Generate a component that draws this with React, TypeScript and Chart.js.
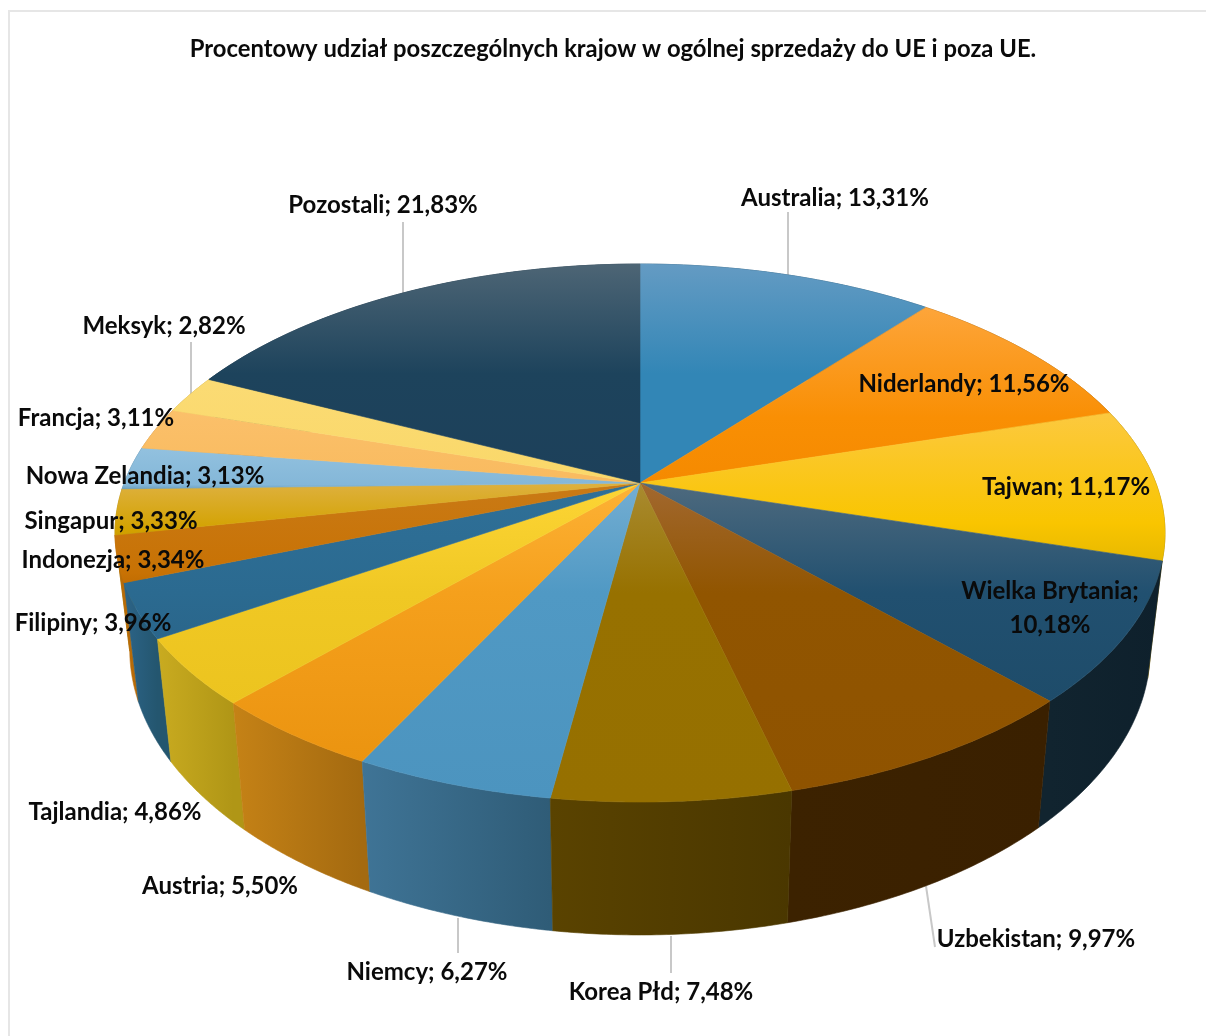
import React, { useEffect, useRef } from "react";
import { Chart, registerables } from "chart.js";

Chart.register(...registerables);

const TITLE = "Procentowy udział poszczególnych krajow w ogólnej sprzedaży do UE i poza UE.";

const categories = [
  "Australia", "Niderlandy", "Tajwan", "Wielka Brytania", "Uzbekistan", "Korea Płd", "Niemcy", "Austria",
  "Tajlandia", "Filipiny", "Indonezja", "Singapur", "Nowa Zelandia", "Francja", "Meksyk", "Pozostali",
];
const shares = [13.31, 11.56, 11.17, 10.18, 9.97, 7.48, 6.27, 5.5, 4.86, 3.96, 3.34, 3.33, 3.13, 3.11, 2.82, 21.83];

const topHighlight = ["#649bc3", "#fda53a", "#fcc93f", "#4e6a7e", "#a2682f", "#a98b30", "#74aed2", "#fdb236", "#fdd535", "#2f7098", "#c97a16", "#deb13f", "#92c1df", "#fbc06a", "#fbdb74", "#4d6575"];
const topBase = ["#3286b6", "#f98f04", "#f9c500", "#215070", "#915500", "#977100", "#5099c4", "#f5a01c", "#f0c824", "#2b6a90", "#c87204", "#d3a200", "#84b7d8", "#f9bb60", "#fad86a", "#1d435c"];
const topEnd = ["#3286b6", "#f58a00", "#e8b900", "#1e4c6a", "#8f5300", "#967000", "#4c94bf", "#eb9410", "#ecc41f", "#2a668b", "#c26d02", "#cf9f00", "#6ea3c3", "#f9bb5f", "#fad869", "#1d405a"];
const wallRight = ["#1b4a66", "#8a5000", "#8a6c00", "#0e202c", "#3a2000", "#4a3700", "#2f5c77", "#a46a10", "#b09616", "#24566f", "#b86b08", "#a88000", "#4a7c98", "#c08a40", "#c0a040", "#10283a"];
const wallLeft = ["#1b4a66", "#8a5000", "#8a6c00", "#11242f", "#3c2200", "#5a4300", "#3f7496", "#c58216", "#c9ab20", "#2c6488", "#b86b08", "#a88000", "#4a7c98", "#c08a40", "#c0a040", "#10283a"];

// Label placement: [centre x, centre y] per category, in canvas pixels.
const labelCentres = [
  [835, 198], [964, 384], [1066, 487], [1050, 608], [1036, 939], [661, 992], [427, 972], [220, 886],
  [115, 812], [93, 623], [113, 560], [111, 521], [145, 476], [96, 418], [164, 326], [383, 205],
];
const leaders = [
  [788, 212, 788, 275], [403, 222, 403, 294], [191, 342, 191, 395],
  [926, 886, 935, 947], [671, 936, 671, 973], [458, 918, 458, 953],
];

// Perspective of the disc, relative to the pie's own radius.
const SHIFT_X = 27;
const TOP_KX = 1.2915;
const TOP_KY = 0.6502;
const PERSPECTIVE = -0.186;
const WALL_SCALE_X = 0.972;
const WALL_Y0 = 113;
const WALL_KY = 0.6908;

const fmt = (v: number) => v.toFixed(2).replace(".", ",") + "%";

const pie3d = {
  id: "pie3d",
  beforeDraw(chart: any) {
    const { ctx, width, height } = chart;
    ctx.save();
    ctx.fillStyle = "#ffffff";
    ctx.fillRect(0, 0, width, height);
    ctx.fillStyle = "#e6e6e6";
    ctx.fillRect(8, 10, width - 8, 2);
    ctx.fillRect(8, 10, 2, height - 10);
    ctx.restore();
  },
  beforeDatasetsDraw(chart: any) {
    const { ctx } = chart;
    const arcs = chart.getDatasetMeta(0).data;
    const first = arcs[0];
    const cx = first.x + SHIFT_X;
    const cy = first.y;
    const r = first.outerRadius;
    const top = (t: number) => {
      const d = 1 + PERSPECTIVE * Math.sin(t);
      return [cx + (r * TOP_KX * Math.cos(t)) / d, cy + (r * TOP_KY * Math.sin(t)) / d];
    };
    const bottom = (t: number) => {
      const d = 1 + PERSPECTIVE * Math.sin(t);
      return [cx + (WALL_SCALE_X * r * TOP_KX * Math.cos(t)) / d, cy + WALL_Y0 + (r * WALL_KY * Math.sin(t)) / d];
    };
    const samples = (a: any) => {
      const n = 48;
      const out: number[] = [];
      for (let i = 0; i <= n; i++) out.push(a.startAngle + ((a.endAngle - a.startAngle) * i) / n);
      return out;
    };

    ctx.save();
    // leader lines sit behind the disc
    ctx.strokeStyle = "#c8c8c8";
    ctx.lineWidth = 2;
    leaders.forEach(([x1, y1, x2, y2]) => {
      ctx.beginPath();
      ctx.moveTo(x1, y1);
      ctx.lineTo(x2, y2);
      ctx.stroke();
    });

    // side walls, back to front
    const order = arcs
      .map((a: any, i: number) => ({ a, i, s: Math.sin((a.startAngle + a.endAngle) / 2) }))
      .sort((p: any, q: any) => p.s - q.s);
    order.forEach(({ a, i }: any) => {
      const ts = samples(a);
      const x0 = top(ts[0])[0];
      const x1 = top(ts[ts.length - 1])[0];
      const g = ctx.createLinearGradient(Math.min(x0, x1), 0, Math.max(x0, x1) + 0.01, 0);
      g.addColorStop(0, wallLeft[i]);
      g.addColorStop(1, wallRight[i]);
      ctx.fillStyle = g;
      ctx.strokeStyle = g;
      ctx.lineWidth = 0.6;
      ctx.beginPath();
      ts.forEach((t: number, k: number) => {
        const p = top(t);
        k ? ctx.lineTo(p[0], p[1]) : ctx.moveTo(p[0], p[1]);
      });
      [...ts].reverse().forEach((t: number) => {
        const p = bottom(t);
        ctx.lineTo(p[0], p[1]);
      });
      ctx.closePath();
      ctx.fill();
      ctx.stroke();
    });

    // top face
    arcs.forEach((a: any, i: number) => {
      const pts = samples(a).map(top);
      const ys = pts.map((p: number[]) => p[1]).concat(cy);
      const y0 = Math.min(...ys);
      const y1 = Math.max(...ys);
      const g = ctx.createLinearGradient(0, y0, 0, y1 + 0.01);
      const mid = Math.min(0.9, 110 / Math.max(1, y1 - y0));
      g.addColorStop(0, topHighlight[i]);
      g.addColorStop(mid, topBase[i]);
      g.addColorStop(1, topEnd[i]);
      ctx.fillStyle = g;
      ctx.strokeStyle = g;
      ctx.lineWidth = 0.6;
      ctx.beginPath();
      ctx.moveTo(cx, cy);
      pts.forEach((p: number[]) => ctx.lineTo(p[0], p[1]));
      ctx.closePath();
      ctx.fill();
      ctx.stroke();
    });
    ctx.restore();
    return false;
  },
  afterDraw(chart: any) {
    const { ctx } = chart;
    ctx.save();
    ctx.fillStyle = "#0a0a0a";
    ctx.font = "bold 24px Lato";
    ctx.textAlign = "center";
    ctx.textBaseline = "middle";
    categories.forEach((c, i) => {
      const [x, y] = labelCentres[i];
      if (c === "Wielka Brytania") {
        ctx.fillText(c + ";", x, y - 17);
        ctx.fillText(fmt(shares[i]), x, y + 17);
      } else {
        ctx.fillText(`${c}; ${fmt(shares[i])}`, x, y);
      }
    });
    ctx.restore();
  },
};

export default function App() {
  const ref = useRef<HTMLCanvasElement>(null);
  useEffect(() => {
    if (!ref.current) return;
    const chart = new Chart(ref.current, {
      type: "pie",
      data: { labels: categories, datasets: [{ data: shares, backgroundColor: topBase, borderWidth: 0 }] },
      options: {
        responsive: false,
        animation: false,
        devicePixelRatio: 1,
        layout: { padding: { left: 20, right: 0, top: 0, bottom: 153.6 } },
        plugins: {
          legend: { display: false },
          tooltip: { enabled: false },
          title: {
            display: true,
            text: TITLE,
            color: "#0a0a0a",
            font: { family: "Lato", size: 23.8, weight: "bold", lineHeight: 1.2 },
            padding: { top: 35, bottom: 20.04 },
          },
        },
      },
      plugins: [pie3d],
    } as any);
    return () => chart.destroy();
  }, []);
  return (
    <div style={{ position: "absolute", left: 0, top: 0 }}>
      <canvas ref={ref} width={1206} height={1036} style={{ display: "block" }} />
    </div>
  );
}
